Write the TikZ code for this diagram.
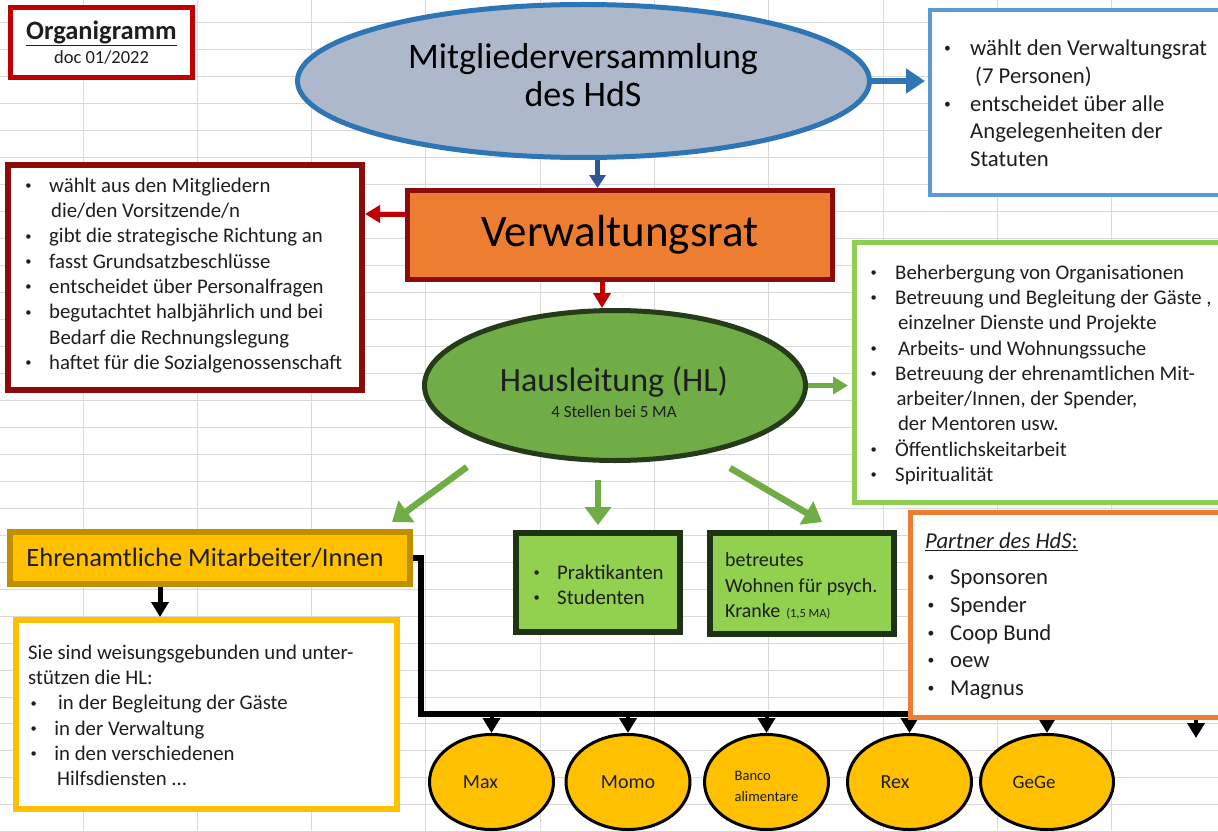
\documentclass[tikz,border=0pt]{standalone}
\usepackage{graphicx}
\usepackage{fontspec}
\setmainfont{Carlito}
\usetikzlibrary{arrows.meta,shapes.geometric}

\definecolor{gridgray}{HTML}{D9D9D9}
\definecolor{inkgray}{HTML}{1E1E1E}
\definecolor{titlered}{HTML}{C00000}
\definecolor{mvfill}{HTML}{ADB9CA}
\definecolor{mvblue}{HTML}{2E75B6}
\definecolor{arrowblue}{HTML}{2F5597}
\definecolor{boxblue}{HTML}{5B9BD5}
\definecolor{vrorange}{HTML}{ED7D31}
\definecolor{vrborder}{HTML}{8C0B0B}
\definecolor{hlgreen}{HTML}{70AD47}
\definecolor{hlborder}{HTML}{253B19}
\definecolor{taskgreen}{HTML}{8CCF52}
\definecolor{ehryellow}{HTML}{FFC000}
\definecolor{ehrborder}{HTML}{BF8F00}
\definecolor{praktgreen}{HTML}{92D050}
\definecolor{praktborder}{HTML}{1E3214}

\newcommand\Bul[2][26.2pt]{\makebox[#1][l]{\kern2.5pt\raisebox{0.13em}{\scalebox{0.6}{•}}}#2}
\newcommand\Cont[2][26.2pt]{\hspace*{#1}#2}

\tikzset{
  gridline/.style={draw=gridgray, line width=1pt},
  framebox/.style={rectangle, inner sep=0pt, line width=5pt, fill=white, text=inkgray},
  listtext/.style={anchor=north west, align=left, inner sep=0pt, text=inkgray,
    font=\fontsize{20.8}{25.3}\selectfont},
  bubble/.style={ellipse, draw=black, line width=3pt, fill=ehryellow, inner sep=0pt,
    minimum width=124pt, minimum height=95pt, text=inkgray,
    font=\fontsize{20}{24}\selectfont},
  bigarrow/.style={draw=hlgreen, line width=6.5pt, -{Triangle[length=18pt,width=26pt]}},
  thinarrow/.style={line width=5pt, -{Triangle[length=15pt,width=17pt]}},
  tiparrow/.style={draw=black, line width=4pt, -{Triangle[length=15pt,width=17pt]}},
}

\begin{document}
\begin{tikzpicture}[x=1pt,y=-1pt]
\useasboundingbox[fill=white] (0,0) rectangle (1218,832);
\clip (0,0) rectangle (1218,832);
% spreadsheet grid
\foreach \i in {0,...,9} { \draw[gridline] ({83+114.3*\i},0) -- ++(0,832); }
\foreach \j in {0,...,30} { \draw[gridline] (0,{23+26.96*\j}) -- ++(1218,0); }

\node[framebox, draw=titlered, minimum width=182pt, minimum height=70pt, align=center,
  font=\fontsize{18.5}{24.3}\selectfont] (title) at (101.5,42.5)
  {{\fontsize{26.5}{24.3}\selectfont\bfseries\underline{Organigramm}}\\doc 01/2022};

% Mitgliederversammlung
\node[ellipse, draw=mvblue, fill=mvfill, line width=5pt, minimum width=572pt,
  minimum height=153pt] (mv) at (583.5,81) {};
\node[align=center, inner sep=0pt, text=black, font=\fontsize{36}{38}\selectfont]
  (mvtext) at (583,75.6) {Mitgliederversammlung\\des HdS};
\node[framebox, line width=4pt, draw=boxblue, anchor=north west, minimum width=320pt,
  minimum height=185pt] (mvtasks) at (928,8) {};
\node[listtext, font=\fontsize{22.7}{27.7}\selectfont] (mvlist) at (941.5,39.8)
  {\Bul[28.5pt]{wählt den Verwaltungsrat}\\
   \Cont[33.5pt]{(7 Personen)}\\
   \Bul[28.5pt]{entscheidet über alle}\\
   \Cont[28.5pt]{Angelegenheiten der}\\
   \Cont[28.5pt]{Statuten}};

% Verwaltungsrat
\node[framebox, draw=vrborder, fill=vrorange, text=black, minimum width=425pt,
  minimum height=89pt, font=\fontsize{45}{50}\selectfont] (vr) at (620,235) {Verwaltungsrat};
\node[framebox, line width=6pt, draw=vrborder, minimum width=354pt,
  minimum height=225pt] (vrtasks) at (185,277.5) {};
\node[listtext] (vrlist) at (22.8,177.6)
  {\Bul{wählt aus den Mitgliedern}\\
   \Cont[28.2pt]{die/den Vorsitzende/n}\\
   \Bul{gibt die strategische Richtung an}\\
   \Bul{fasst Grundsatzbeschlüsse}\\
   \Bul{entscheidet über Personalfragen}\\
   \Bul{begutachtet halbjährlich und bei}\\
   \Cont{Bedarf die Rechnungslegung}\\
   \Bul{haftet für die Sozialgenossenschaft}};

% Hausleitung
\node[ellipse, draw=hlborder, fill=hlgreen, line width=5pt, minimum width=381pt,
  minimum height=150pt] (hl) at (615,385.5) {};
\node[align=center, inner sep=0pt, text=inkgray, font=\fontsize{34}{25.4}\selectfont]
  (hltext) at (614,392.2) {Hausleitung (HL)\\{\fontsize{17}{25.4}\selectfont 4 Stellen bei 5 MA}};
\node[framebox, draw=taskgreen, anchor=north west, minimum width=400pt,
  minimum height=260pt] (hltasks) at (852,240) {};
\node[listtext] (hllist) at (867.8,264.5)
  {\Bul[27.2pt]{Beherbergung von Organisationen}\\
   \Bul[27.2pt]{Betreuung und Begleitung der Gäste ,}\\
   \Cont[30pt]{einzelner Dienste und Projekte}\\
   \Bul[30pt]{Arbeits- und Wohnungssuche}\\
   \Bul[27.2pt]{Betreuung der ehrenamtlichen Mit-}\\
   \Cont[28.5pt]{arbeiter/Innen, der Spender,}\\
   \Cont[30pt]{der Mentoren usw.}\\
   \Bul[27.2pt]{Öffentlichskeitarbeit}\\
   \Bul[27.2pt]{Spiritualität}};

% Ehrenamtliche
\node[framebox, line width=6pt, draw=ehrborder, fill=ehryellow, minimum width=400pt,
  minimum height=52pt, font=\fontsize{26.5}{30}\selectfont] (ehr) at (210,558)
  {Ehrenamtliche Mitarbeiter/Innen\kern10pt};
\node[framebox, line width=6pt, draw=ehryellow, minimum width=381pt,
  minimum height=189pt] (ehrtasks) at (206.5,714.5) {};
\node[listtext] (ehrlist) at (28,644.5)
  {Sie sind weisungsgebunden und unter-\\
   stützen die HL:\\
   \Bul[30pt]{in der Begleitung der Gäste}\\
   \Bul{in der Verwaltung}\\
   \Bul{in den verschiedenen}\\
   \Cont[29pt]{Hilfsdiensten ...}};

\node[framebox, line width=6pt, draw=praktborder, fill=praktgreen, minimum width=164pt,
  minimum height=99pt] (prakt) at (598,582.5) {};
\node[listtext] (praktlist) at (530.8,564.5) {\Bul{Praktikanten}\\\Bul{Studenten}};
\node[framebox, line width=6pt, draw=praktborder, fill=praktgreen, minimum width=184pt,
  minimum height=101pt] (betr) at (802,583.5) {};
\node[listtext, font=\fontsize{20}{25.5}\selectfont] (betrlist) at (725,552.8)
  {betreutes\\Wohnen für psych.\\Kranke\hspace{6pt}{\fontsize{12.5}{25.5}\selectfont(1,5 MA)}};

% Gruppen
\coordinate (busend) at (1196,714);
\draw[line width=6pt] (ehr.east) -| (421,714) -- (busend);
\node[bubble] (max) at (491.5,782) {Max\kern22pt};
\node[bubble] (momo) at (628,782) {Momo};
\node[bubble, align=left, font=\fontsize{14.5}{21}\selectfont] (banco) at (766.5,782)
  {\rule{0pt}{19pt}Banco\\alimentare};
\node[bubble] (rex) at (909.5,782) {Rex\kern29pt};
\node[bubble, minimum width=133pt, font=\fontsize{19}{24}\selectfont] (gege) at (1047,782)
  {GeGe\kern26pt};
\foreach \n in {max,momo,banco,rex,gege} { \draw[tiparrow] (\n.north |- busend) -- (\n.north); }
\draw[tiparrow] (busend) -- ++(0,24);

\node[framebox, draw=vrorange, anchor=north west, minimum width=400pt,
  minimum height=205pt] (partner) at (908,510) {};
\node[listtext, font=\fontsize{22.7}{27.7}\selectfont] (partnerlist) at (925,532.7)
  {\underline{\textit{Partner des HdS}:}\\[8.3pt]
   \Bul[25pt]{Sponsoren}\\
   \Bul[25pt]{Spender}\\
   \Bul[25pt]{Coop Bund}\\
   \Bul[25pt]{oew}\\
   \Bul[25pt]{Magnus}};

% arrows
\draw[mvblue, line width=6pt, -{Triangle[length=19pt,width=24pt]}]
  (mv.east) -- ([xshift=-3pt]mv.east -| mvtasks.west);
\draw[arrowblue, line width=5pt, -{Triangle[length=13pt,width=16pt]}]
  ([xshift=14pt]mv.south) -- ([xshift=14pt]mv.south |- vr.north);
\draw[thinarrow, titlered] ([yshift=21pt]vr.west) -- ([yshift=21pt]vr.west -| vrtasks.east);
\draw[thinarrow, titlered] ([xshift=-18pt]vr.south) -- ([xshift=-18pt]vr.south |- hl.north);
\draw[thinarrow, hlgreen, shorten >=4pt] (hl.east) -- (hl.east -| hltasks.west);
\draw[bigarrow] ([shift={(-148,4)}]hl.south) -- ([shift={(-21,-7)}]ehr.north east);
\draw[bigarrow, shorten <=17pt, shorten >=5pt] (hl.south -| prakt.north) -- (prakt.north);
\draw[bigarrow] ([shift={(115,5)}]hl.south) -- ([shift={(20,-8)}]betr.north);
\draw[thinarrow, black] ([xshift=-50pt]ehr.south) -- ([xshift=-50pt]ehr.south |- ehrtasks.north);
\end{tikzpicture}
\end{document}
